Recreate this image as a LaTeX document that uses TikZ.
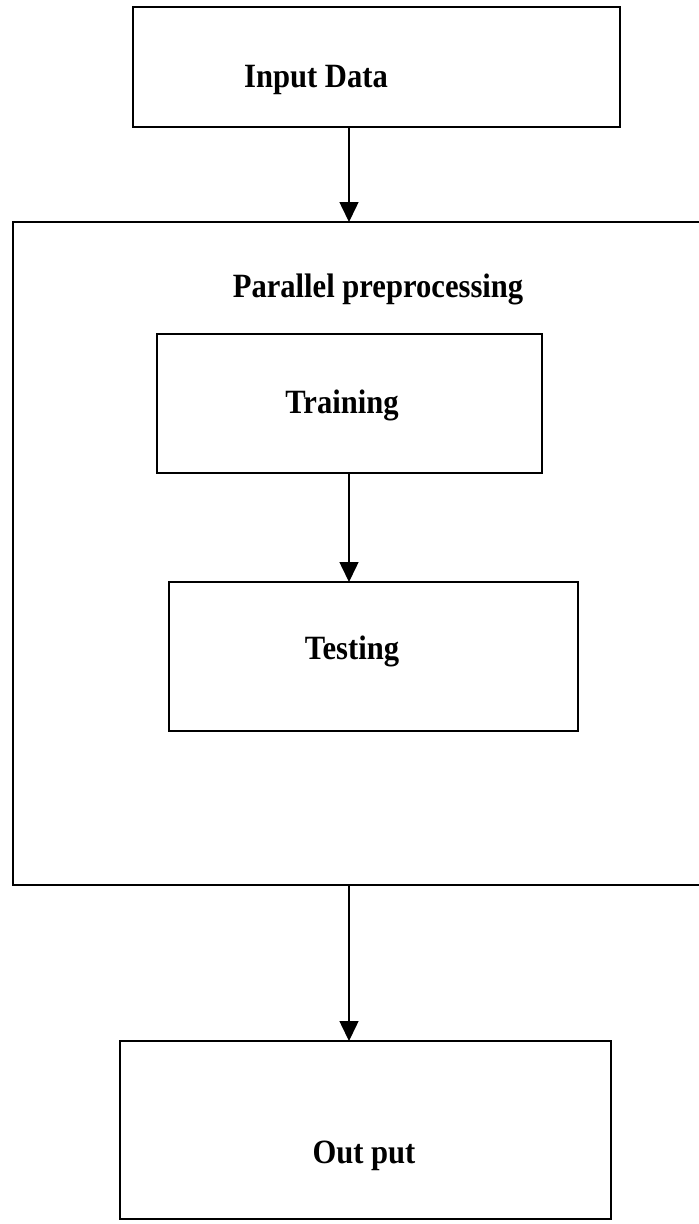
\documentclass[tikz,border=0pt]{standalone}
\usepackage{fontspec}
\setmainfont{Liberation Serif}[FakeStretch=0.9]
\usetikzlibrary{arrows.meta}
\begin{document}
\begin{tikzpicture}[x=1pt, y=-1pt,
  box/.style={draw=black, line width=1.5pt, rectangle, inner sep=0pt, outer sep=0pt},
  lbl/.style={anchor=base, inner sep=0pt, font=\fontsize{34}{40}\selectfont\bfseries},
  arr/.style={draw=black, line width=1.5pt, -{Triangle[length=20pt, width=19pt]}}]
  \useasboundingbox[fill=white] (0,0) rectangle (699,1224);

  % boxes
  \node[box, minimum width=487pt, minimum height=120pt] (input) at (376.5,67) {};
  \node[box, minimum width=692pt, minimum height=663pt] (big) at (359,553.5) {};
  \node[box, minimum width=385pt, minimum height=139pt] (train) at (349.5,403.5) {};
  \node[box, minimum width=409pt, minimum height=149pt] (test) at (373.5,656.5) {};
  \node[box, minimum width=491pt, minimum height=178pt] (out) at (365.5,1130) {};

  % labels
  \node[lbl] (inputtxt) at (316,87) {Input Data};
  \node[lbl] (paratxt) at (378,297) {Parallel preprocessing};
  \node[lbl] (traintxt) at (342,413) {Training};
  \node[lbl] (testtxt) at (352,659) {Testing};
  \node[lbl] (outtxt) at (364,1163) {Out put};

  % connectors, all on one vertical line
  \coordinate (ax) at (349,0);
  \draw[arr] (input.south -| ax) -- (big.north -| ax);
  \draw[arr] (train.south -| ax) -- (test.north -| ax);
  \draw[arr] (big.south -| ax) -- (out.north -| ax);
\end{tikzpicture}
\end{document}
